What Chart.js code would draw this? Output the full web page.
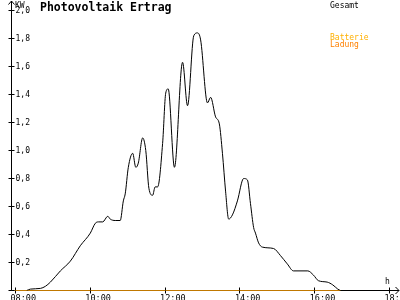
<!DOCTYPE html>
<html>
<head>
<meta charset="utf-8">
<script src="https://cdn.jsdelivr.net/npm/chart.js@4/dist/chart.umd.min.js"></script>
<style>
  body { margin: 0; background: #fff; }
  canvas { display: block; background: #fff; }
</style>
</head>
<body>
<canvas id="pvChart" width="400" height="300"></canvas>
<script>
// values (time of day, kW)
const gesamtTimes = ['08:18','08:24','08:40','08:48','08:56','09:12','09:28','09:44','10:00','10:08',
    '10:13','10:20','10:28','10:32','10:40','10:48','10:53','10:56','11:01','11:08',
    '11:13','11:17','11:24','11:29','11:34','11:40','11:44','11:48','11:56','12:01',
    '12:05','12:15','12:28','12:36','12:46','12:52','12:57','13:08','13:13','13:21',
    '13:27','13:32','13:37','13:42','13:48','13:56','14:06','14:12','14:17','14:22',
    '14:25','14:30','14:36','14:54','15:05','15:16','15:26','15:49','15:58','16:06',
    '16:20','16:29','16:37','16:41'];
const gesamtValues = [0.00,0.01,0.015,0.03,0.06,0.14,0.21,0.32,0.41,0.48,
    0.49,0.49,0.53,0.51,0.50,0.50,0.64,0.69,0.88,0.98,
    0.88,0.91,1.09,1.00,0.73,0.68,0.74,0.74,1.05,1.41,
    1.44,0.88,1.63,1.32,1.82,1.84,1.79,1.34,1.38,1.24,
    1.19,0.98,0.71,0.51,0.54,0.64,0.80,0.79,0.62,0.45,
    0.41,0.34,0.31,0.30,0.25,0.19,0.14,0.14,0.11,0.07,
    0.06,0.04,0.01,0.00];
const batterieTimes = ['07:54','16:41'];
const batterieValues = [0, 0];
const ladungTimes = ['07:54','16:41'];
const ladungValues = [0, 0];

const xTickLabels = ['08:00','10:00','12:00','14:00','16:00','18:00'];
const yTickValues = [0, 0.2, 0.4, 0.6, 0.8, 1.0, 1.2, 1.4, 1.6, 1.8, 2.0];
const yTickLabels = ['', '0,2', '0,4', '0,6', '0,8', '1,0', '1,2', '1,4', '1,6', '1,8', '2,0'];

function toHours(t) {
    const parts = t.split(':');
    return Number(parts[0]) + Number(parts[1]) / 60;
}

function toPoints(times, values) {
    return times.map((t, i) => ({x: toHours(t), y: values[i]}));
}

const mono = '"DejaVu Sans Mono", monospace';

// axis arrows, inner half of tick marks, title, legend text
const decorations = {
    id: 'decorations',
    afterDraw(chart) {
        const c = chart.ctx;
        const area = chart.chartArea;
        const xs = chart.scales.x;
        const ys = chart.scales.y;
        const ax = Math.round(area.left - 0.5) + 0.5;
        const ay = Math.round(area.bottom - 0.5) + 0.5;
        c.save();
        c.strokeStyle = '#000';
        c.lineWidth = 1;
        c.beginPath();
        // y axis up to arrow
        c.moveTo(ax, area.top);
        c.lineTo(ax, 1);
        c.moveTo(ax - 3, 4.5);
        c.lineTo(ax, 1);
        c.lineTo(ax + 3, 4.5);
        // x axis to arrow
        c.moveTo(area.right, ay);
        c.lineTo(399, ay);
        c.moveTo(395.5, ay - 3.5);
        c.lineTo(399, ay);
        c.lineTo(395.5, ay + 3.5);
        // inner tick halves
        ys.ticks.forEach(t => {
            const p = Math.round(ys.getPixelForValue(t.value) - 0.5) + 0.5;
            c.moveTo(ax, p);
            c.lineTo(ax + 3, p);
        });
        xs.ticks.forEach(t => {
            const p = Math.round(xs.getPixelForValue(t.value) - 0.5) + 0.5;
            c.moveTo(p, ay);
            c.lineTo(p, ay - 3);
        });
        c.stroke();

        c.textAlign = 'left';
        c.textBaseline = 'alphabetic';
        c.fillStyle = '#000';
        c.font = 'bold 11.5px ' + mono;
        c.fillText('Photovoltaik Ertrag', 40, 10.5);
        c.font = '8px ' + mono;
        c.fillText('KW', 15, 7.5);
        c.fillText('h', 385, 284);
        c.fillText('Gesamt', 330, 8);
        c.fillStyle = '#ffb000';
        c.fillText('Batterie', 330, 39.5);
        c.fillStyle = '#ff8000';
        c.fillText('Ladung', 330, 47);
        c.restore();
    }
};

new Chart(document.getElementById('pvChart'), {
    type: 'line',
    data: {
        datasets: [
            {
                label: 'Gesamt',
                data: toPoints(gesamtTimes, gesamtValues),
                borderColor: '#000',
                borderWidth: 1,
                pointRadius: 0,
                cubicInterpolationMode: 'monotone'
            },
            {
                label: 'Batterie',
                data: toPoints(batterieTimes, batterieValues),
                borderColor: '#ffb000',
                borderWidth: 1,
                pointRadius: 0
            },
            {
                label: 'Ladung',
                data: toPoints(ladungTimes, ladungValues),
                borderColor: '#ff8000',
                borderWidth: 1,
                pointRadius: 0
            }
        ]
    },
    options: {
        responsive: false,
        animation: false,
        devicePixelRatio: 1,
        layout: {padding: {left: 8.5, right: 2.5, top: 10.5, bottom: 0}},
        plugins: {
            legend: {display: false},
            tooltip: {enabled: false},
            title: {display: false}
        },
        scales: {
            x: {
                type: 'linear',
                min: 8 - 4 / 37.4,
                max: 18 + 8 / 37.4,
                afterBuildTicks: scale => {
                    scale.ticks = xTickLabels.map(t => ({value: toHours(t)}));
                },
                afterFit: scale => {
                    scale.height = 9.5;
                    scale.paddingLeft = 0;
                    scale.paddingRight = 0;
                },
                grid: {drawOnChartArea: false, tickLength: 3, color: '#000'},
                border: {color: '#000', width: 1},
                ticks: {
                    maxRotation: 0,
                    autoSkip: false,
                    align: 'start',
                    labelOffset: -5,
                    padding: 0,
                    color: '#000',
                    font: {family: mono, size: 8.5},
                    callback: (v, i) => xTickLabels[i]
                }
            },
            y: {
                min: 0,
                max: 2.0,
                afterBuildTicks: scale => {
                    scale.ticks = yTickValues.map(v => ({value: v}));
                },
                afterFit: scale => {
                    scale.width = 3;
                    scale.paddingTop = 0;
                    scale.paddingBottom = 0;
                },
                grid: {drawOnChartArea: false, tickLength: 3, color: '#000'},
                border: {color: '#000', width: 1},
                ticks: {
                    mirror: true,
                    padding: 4,
                    autoSkip: false,
                    color: '#000',
                    font: {family: mono, size: 8},
                    callback: (v, i) => yTickLabels[i]
                }
            }
        }
    },
    plugins: [decorations]
});
</script>
</body>
</html>
